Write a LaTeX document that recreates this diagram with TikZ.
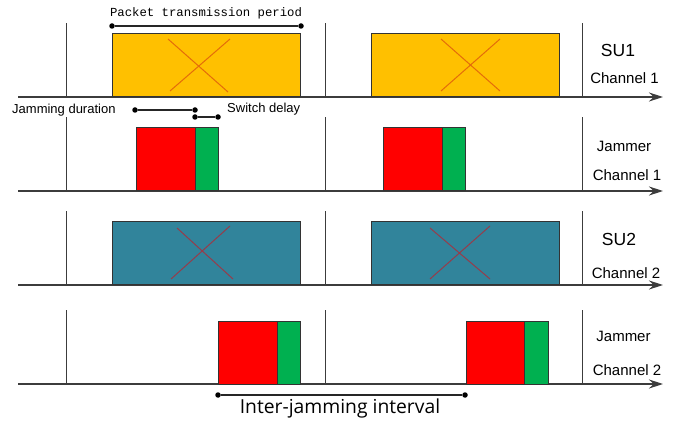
\documentclass[tikz,border=0pt]{standalone}
\usepackage{fontspec}
\setmainfont{Liberation Sans}
\newfontfamily\monofont{Liberation Mono}
\newfontfamily\wideface{Open Sans}
\usetikzlibrary{arrows.meta}

\definecolor{suorange}{RGB}{255,192,0}
\definecolor{suteal}{RGB}{49,132,155}
\definecolor{jamred}{RGB}{255,0,0}
\definecolor{jamgreen}{RGB}{0,176,80}
\definecolor{crossorange}{RGB}{228,108,10}
\definecolor{crossteal}{RGB}{150,60,75}
\definecolor{axisgray}{RGB}{60,60,60}

\tikzset{
  axisline/.style={draw=axisgray, line width=1.2pt, -{Stealth[length=14pt,width=9pt]}},
  tickline/.style={draw=axisgray, line width=1pt},
  slot/.style={rectangle, inner sep=0pt, outer sep=0pt, anchor=south west, draw=black!80, line width=1pt},
  suone/.style={slot, fill=suorange},
  sutwo/.style={slot, fill=suteal},
  jamblock/.style={slot, fill=jamred},
  delayblock/.style={slot, fill=jamgreen},
  crossA/.style={draw=crossorange, line width=1pt},
  crossB/.style={draw=crossteal, line width=1pt},
  dot/.style={circle, fill=black, inner sep=0pt, minimum size=5.5pt},
  dimline/.style={draw=black!85, line width=1.2pt},
  lbl/.style={inner sep=0pt, font=\fontsize{15}{17}\selectfont},
  biglbl/.style={inner sep=0pt, font=\fontsize{17.5}{20}\selectfont},
  smalllbl/.style={inner sep=0pt, font=\fontsize{13}{15}\selectfont},
}

\begin{document}
\begin{tikzpicture}[x=1pt, y=-1pt]
\useasboundingbox (0,0) rectangle (686,422);

% time axes, one per row
\foreach \r/\yy in {1/97, 2/191, 3/285, 4/384} {
  \coordinate (ax\r s) at (18,\yy);
  \coordinate (ax\r e) at (663,\yy);
  \draw[axisline] (ax\r s) -- (ax\r e);
  \foreach \k/\xx in {1/66, 2/325, 3/582} {
    \coordinate (tk\r\k b) at (\xx,\yy);
    \coordinate (tk\r\k t) at (\xx,\yy-74);
    \draw[tickline] (tk\r\k b) -- (tk\r\k t);
  }
}

% SU1 on channel 1
\node[suone, minimum width=188pt, minimum height=63pt] (su1a) at (112,97) {};
\node[suone, minimum width=188pt, minimum height=63pt] (su1b) at (371,97) {};
\draw[crossA] (168,39) -- (228,92) (230,39) -- (170,91);
\draw[crossA] (441,39) -- (500,91) (500,39) -- (441,91);

% jammer on channel 1
\node[jamblock, minimum width=59pt, minimum height=63pt] (j1a) at (136,191) {};
\node[delayblock, minimum width=23pt, minimum height=63pt] (s1a) at (195,191) {};
\node[jamblock, minimum width=59pt, minimum height=63pt] (j1b) at (383,191) {};
\node[delayblock, minimum width=23pt, minimum height=63pt] (s1b) at (442,191) {};

% SU2 on channel 2
\node[sutwo, minimum width=188pt, minimum height=63pt] (su2a) at (112,285) {};
\node[sutwo, minimum width=188pt, minimum height=63pt] (su2b) at (371,285) {};
\draw[crossB] (177,228) -- (233,279) (230,226) -- (171,279);
\draw[crossB] (430,228) -- (490,279) (490,226) -- (430,279);

% jammer on channel 2
\node[jamblock, minimum width=59pt, minimum height=62pt] (j2a) at (218,384) {};
\node[delayblock, minimum width=23pt, minimum height=62pt] (s2a) at (277,384) {};
\node[jamblock, minimum width=58pt, minimum height=62pt] (j2b) at (466,384) {};
\node[delayblock, minimum width=24pt, minimum height=62pt] (s2b) at (524,384) {};

% packet transmission period
\node[dot] (pp1) at (112,26) {};
\node[dot] (pp2) at (301,26) {};
\draw[dimline] (pp1) -- (pp2);
\node[inner sep=0pt, font=\monofont\fontsize{12.3}{14}\selectfont] (ptp) at (206,13) {Packet transmission period};

% jamming duration and switch delay
\node[dot] (jd1) at (135,110) {};
\node[dot] (jd2) at (195,110) {};
\draw[dimline] (jd1) -- (jd2);
\node[dot] (sd1) at (195,117) {};
\node[dot] (sd2) at (218,117) {};
\draw[dimline] (sd1) -- (sd2);
\node[smalllbl, anchor=west] (jdl) at (12,110) {Jamming duration};
\node[smalllbl, anchor=west] (sdl) at (227,109) {Switch delay};

% inter-jamming interval
\node[dot] (ij1) at (218,395) {};
\node[dot] (ij2) at (465,395) {};
\draw[dimline] (ij1) -- (ij2);
\node[inner sep=0pt, font=\wideface\fontsize{19.3}{21}\selectfont] (ijl) at (340,408) {Inter-jamming interval};

% row labels
\node[biglbl] (l1) at (618,50) {SU1};
\node[lbl] (c1) at (624.5,78) {Channel 1};
\node[lbl] (l2) at (624,146) {Jammer};
\node[lbl] (c2) at (627,175) {Channel 1};
\node[biglbl] (l3) at (619,239) {SU2};
\node[lbl] (c3) at (626,273) {Channel 2};
\node[lbl] (l4) at (623.5,336) {Jammer};
\node[lbl] (c4) at (627,370) {Channel 2};
\end{tikzpicture}
\end{document}
